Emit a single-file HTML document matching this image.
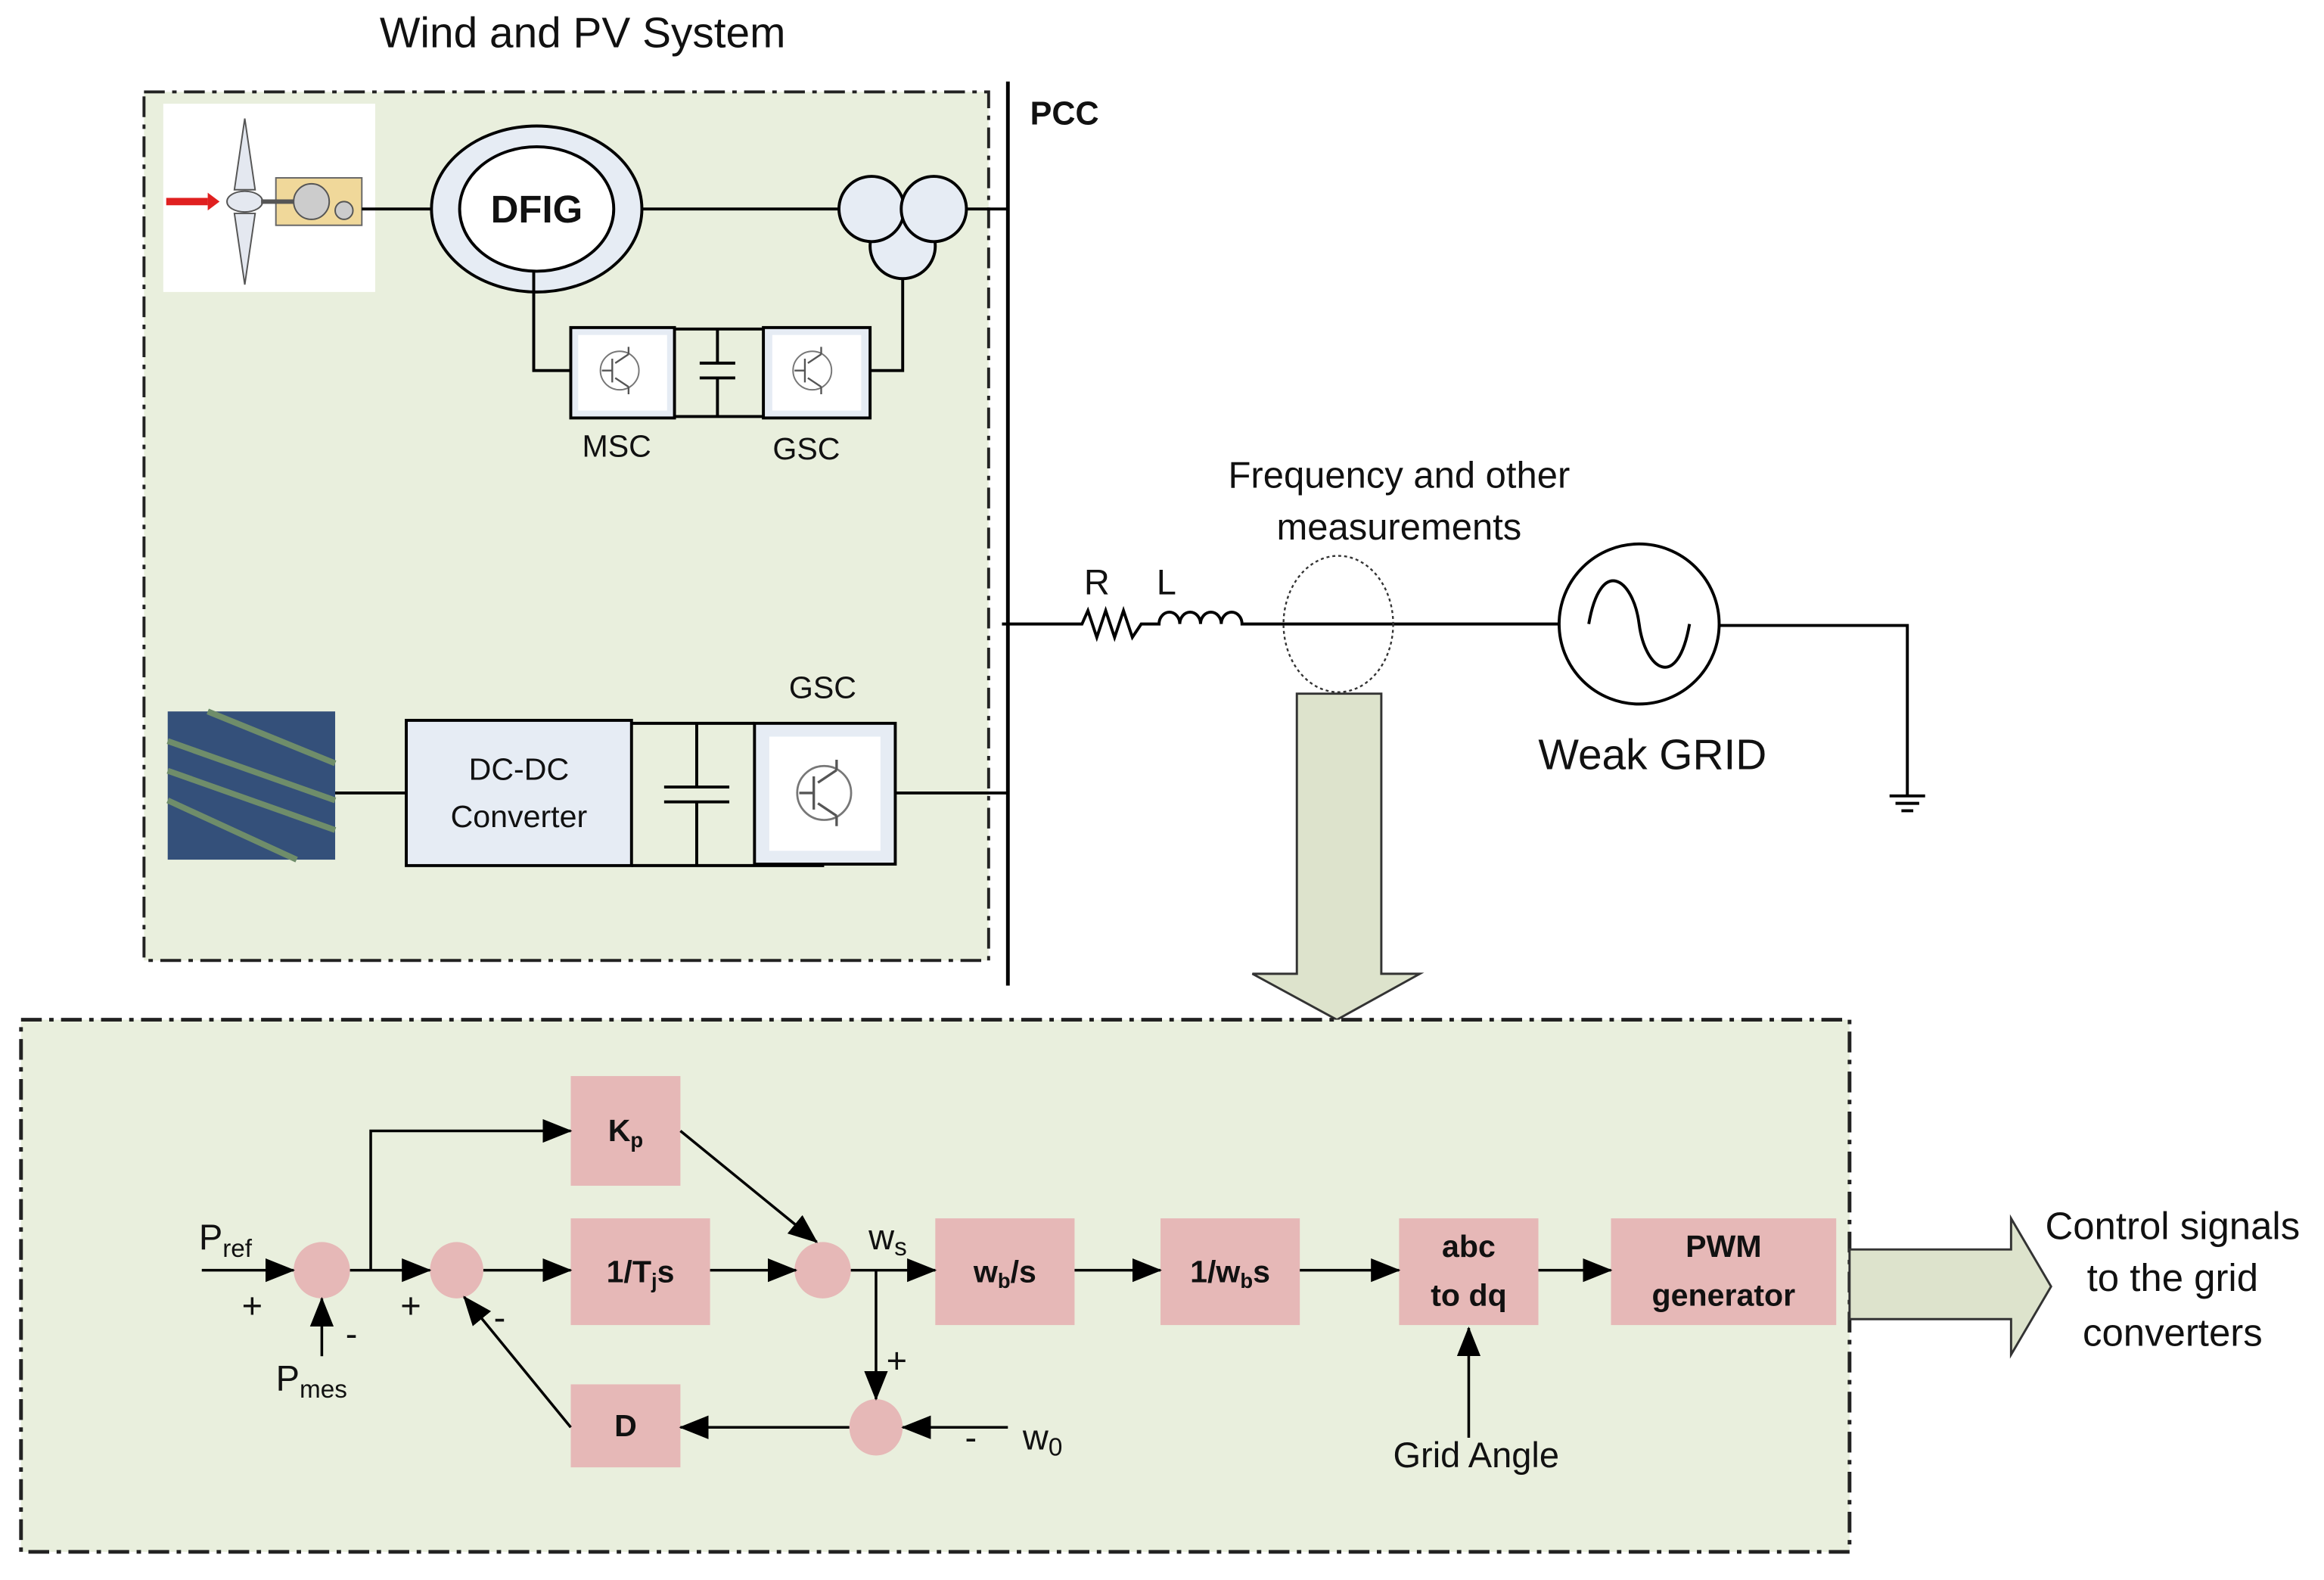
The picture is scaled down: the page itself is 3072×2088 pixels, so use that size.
<!DOCTYPE html>
<html><head><meta charset="utf-8"><style>
html,body{margin:0;padding:0;background:#fff;}
svg{display:block;}
text{font-family:"Liberation Sans",sans-serif;fill:#111;}
</style></head><body>
<svg width="3072" height="2088" viewBox="0 0 1568 1066" xmlns="http://www.w3.org/2000/svg">
<defs>
<marker id="ar" markerWidth="10" markerHeight="10" refX="9" refY="5" orient="auto" markerUnits="userSpaceOnUse">
<path d="M0,0 L10,5 L0,10 z" fill="#000"/></marker>
<marker id="arb" markerWidth="20" markerHeight="16" refX="19" refY="8" orient="auto" markerUnits="userSpaceOnUse">
<path d="M0,0 L20,8 L0,16 z" fill="#000"/></marker>
<g id="igbt">
<circle cx="0" cy="0" r="13" fill="none" stroke="#777" stroke-width="1"/>
<path d="M-5,-8 V8 M-3,-5 L6,-11 M-3,5 L6,11 M-12,0 H-5 M6,-11 V-16 M6,11 V16" stroke="#555" stroke-width="1.2" fill="none"/>
</g>
</defs>

<text x="393" y="32" font-size="29" text-anchor="middle">Wind and PV System</text>
<rect x="97" y="62" width="570" height="586" fill="#e9efdd" stroke="#222" stroke-width="2" stroke-dasharray="14,5,3,5"/>
<line x1="680" y1="55" x2="680" y2="665" stroke="#000" stroke-width="2.5"/>
<text x="695" y="84" font-size="22" font-weight="bold">PCC</text>

<!-- turbine -->
<rect x="110" y="70" width="143" height="127" fill="#fff"/>
<path d="M112,136 H140" stroke="#e02020" stroke-width="5"/><path d="M140,130 L148,136 L140,142 z" fill="#e02020"/>
<path d="M165,80 L172,128 L158,128 z M165,192 L172,144 L158,144 z" fill="#e4e8f0" stroke="#555"/>
<ellipse cx="165" cy="136" rx="12" ry="7" fill="#e4e8f0" stroke="#555"/>
<rect x="186" y="120" width="58" height="32" fill="#f0d89a" stroke="#666"/>
<circle cx="210" cy="136" r="12" fill="#ccc" stroke="#555"/><circle cx="232" cy="142" r="6" fill="#ccc" stroke="#555"/>
<line x1="176" y1="136" x2="198" y2="136" stroke="#555" stroke-width="3"/>
<line x1="244" y1="141" x2="292" y2="141" stroke="#000" stroke-width="2"/>
<!-- DFIG -->
<ellipse cx="362" cy="141" rx="71" ry="56" fill="#e6ecf4" stroke="#000" stroke-width="2"/>
<ellipse cx="362" cy="141" rx="52" ry="42" fill="#fff" stroke="#000" stroke-width="2"/>
<text x="362" y="150" font-size="26" font-weight="bold" text-anchor="middle">DFIG</text>
<line x1="433" y1="141" x2="568" y2="141" stroke="#000" stroke-width="2"/>
<circle cx="609" cy="166" r="22" fill="#e6ecf4" stroke="#000" stroke-width="2"/>
<circle cx="588" cy="141" r="22" fill="#e6ecf4" stroke="#000" stroke-width="2"/>
<circle cx="630" cy="141" r="22" fill="#e6ecf4" stroke="#000" stroke-width="2"/>
<line x1="652" y1="141" x2="680" y2="141" stroke="#000" stroke-width="2"/>
<path d="M360,183 V250 H385" stroke="#000" stroke-width="2" fill="none"/>
<rect x="385" y="221" width="70" height="61" fill="#e6ecf4" stroke="#000" stroke-width="2"/>
<rect x="390" y="226" width="60" height="51" fill="#fff"/>
<use href="#igbt" x="418" y="250"/>
<path d="M455,222 H515 M455,281 H515 M484,222 V245 M484,255 V281 M472,245 H496 M472,255 H496" stroke="#000" stroke-width="2" fill="none"/>
<rect x="515" y="221" width="72" height="61" fill="#e6ecf4" stroke="#000" stroke-width="2"/>
<rect x="521" y="226" width="60" height="51" fill="#fff"/>
<use href="#igbt" x="548" y="250"/>
<path d="M587,250 H609 V188" stroke="#000" stroke-width="2" fill="none"/>
<text x="416" y="308" font-size="21" text-anchor="middle">MSC</text>
<text x="544" y="310" font-size="21" text-anchor="middle">GSC</text>

<!-- PV -->
<rect x="113" y="480" width="113" height="100" fill="#34507a"/>
<path d="M113,500 L226,540 M113,520 L226,560 M113,540 L200,580 M140,480 L226,515" stroke="#6f8d6a" stroke-width="4"/>
<line x1="226" y1="535" x2="274" y2="535" stroke="#000" stroke-width="2"/>
<rect x="274" y="486" width="152" height="98" fill="#e6ecf4" stroke="#000" stroke-width="2"/>
<text x="350" y="526" font-size="21" text-anchor="middle">DC-DC</text>
<text x="350" y="558" font-size="21" text-anchor="middle">Converter</text>
<path d="M426,488 H509 M426,584 H556 M470,488 V531 M470,541 V584 M448,531 H492 M448,541 H492" stroke="#000" stroke-width="2" fill="none"/>
<rect x="509" y="488" width="95" height="95" fill="#e6ecf4" stroke="#000" stroke-width="2"/>
<rect x="519" y="497" width="75" height="77" fill="#fff"/>
<use href="#igbt" x="556" y="535" transform="translate(556,535) scale(1.4) translate(-556,-535)"/>
<text x="555" y="471" font-size="21" text-anchor="middle">GSC</text>
<line x1="604" y1="535" x2="680" y2="535" stroke="#000" stroke-width="2"/>

<!-- line to grid -->
<path d="M676,421 H730 L734,412 L740,430 L746,412 L752,430 L758,412 L764,430 L770,421 H782 a7,8 0 0 1 14,0 a7,8 0 0 1 14,0 a7,8 0 0 1 14,0 a7,8 0 0 1 14,0 H1052" stroke="#000" stroke-width="2" fill="none"/>
<text x="740" y="401" font-size="24" text-anchor="middle">R</text>
<text x="787" y="401" font-size="24" text-anchor="middle">L</text>
<text x="944" y="329" font-size="25" text-anchor="middle">Frequency and other</text>
<text x="944" y="364" font-size="25" text-anchor="middle">measurements</text>
<ellipse cx="903" cy="421" rx="37" ry="46" fill="none" stroke="#333" stroke-width="1.2" stroke-dasharray="2,2"/>
<circle cx="1106" cy="421" r="54" fill="#fff" stroke="#000" stroke-width="2"/>
<path d="M1072,421 C1080,375 1102,390 1106,421 C1110,452 1132,467 1140,421" stroke="#000" stroke-width="2" fill="none"/>
<path d="M1160,422 H1287 V537 M1275,537 H1299 M1279,542 H1295 M1283,547 H1291" stroke="#000" stroke-width="2" fill="none"/>
<text x="1115" y="519" font-size="29" text-anchor="middle">Weak GRID</text>

<!-- big down arrow -->
<path d="M875,468 H932 V657 H958 L902,688 L845,657 H875 z" fill="#dde3cc" stroke="#333" stroke-width="1.5"/>

<!-- control box -->
<rect x="14" y="688" width="1234" height="359" fill="#e9efdd" stroke="#222" stroke-width="2.5" stroke-dasharray="14,5,3,5"/>
<g fill="#e6b8b7">
<rect x="385" y="726" width="74" height="74"/>
<rect x="385" y="822" width="94" height="72"/>
<rect x="631" y="822" width="94" height="72"/>
<rect x="783" y="822" width="94" height="72"/>
<rect x="944" y="822" width="94" height="72"/>
<rect x="1087" y="822" width="152" height="72"/>
<rect x="385" y="934" width="74" height="56"/>
<ellipse cx="217" cy="857" rx="19" ry="19"/>
<ellipse cx="308" cy="857" rx="18" ry="19"/>
<ellipse cx="555" cy="857" rx="19" ry="19"/>
<ellipse cx="591" cy="963" rx="18" ry="19"/>
</g>
<g font-size="21" font-weight="bold" text-anchor="middle">
<text x="422" y="770">K<tspan font-size="14" dy="4">p</tspan></text>
<text x="432" y="865">1/T<tspan font-size="14" dy="4">j</tspan><tspan dy="-4">s</tspan></text>
<text x="678" y="865">w<tspan font-size="14" dy="4">b</tspan><tspan dy="-4">/s</tspan></text>
<text x="830" y="865">1/w<tspan font-size="14" dy="4">b</tspan><tspan dy="-4">s</tspan></text>
<text x="991" y="848">abc</text>
<text x="991" y="881">to dq</text>
<text x="1163" y="848">PWM</text>
<text x="1163" y="881">generator</text>
<text x="422" y="969">D</text>
</g>
<g stroke="#000" stroke-width="1.8" fill="none" marker-end="url(#arb)">
<line x1="136" y1="857" x2="198" y2="857"/>
<line x1="236" y1="857" x2="290" y2="857"/>
<path d="M250,857 V763 H385"/>
<line x1="326" y1="857" x2="385" y2="857"/>
<line x1="479" y1="857" x2="537" y2="857"/>
<line x1="459" y1="763" x2="551" y2="838"/>
<line x1="574" y1="857" x2="631" y2="857"/>
<line x1="725" y1="857" x2="783" y2="857"/>
<line x1="877" y1="857" x2="944" y2="857"/>
<line x1="1038" y1="857" x2="1087" y2="857"/>
<line x1="217" y1="915" x2="217" y2="876"/>
<line x1="591" y1="857" x2="591" y2="944"/>
<line x1="680" y1="963" x2="609" y2="963"/>
<line x1="573" y1="963" x2="459" y2="963"/>
<line x1="385" y1="963" x2="313" y2="875"/>
<line x1="991" y1="970" x2="991" y2="896"/>
</g>
<g font-size="24">
<text x="134" y="843">P<tspan font-size="17" dy="5">ref</tspan></text>
<text x="163" y="889">+</text>
<text x="233" y="908">-</text>
<text x="186" y="938">P<tspan font-size="17" dy="5">mes</tspan></text>
<text x="270" y="889">+</text>
<text x="333" y="897">-</text>
<text x="586" y="843">w<tspan font-size="17" dy="4">s</tspan></text>
<text x="598" y="926">+</text>
<text x="651" y="978">-</text>
<text x="690" y="978">w<tspan font-size="17" dy="4">0</tspan></text>
<text x="996" y="990" text-anchor="middle">Grid Angle</text>
</g>
<path d="M1248,843 H1357 V822 L1384,868 L1357,914 V890 H1248 z" fill="#dde3cc" stroke="#333" stroke-width="1.5"/>
<g font-size="26" text-anchor="middle">
<text x="1466" y="836">Control signals</text>
<text x="1466" y="871">to the grid</text>
<text x="1466" y="908">converters</text>
</g>
</svg>
</body></html>
